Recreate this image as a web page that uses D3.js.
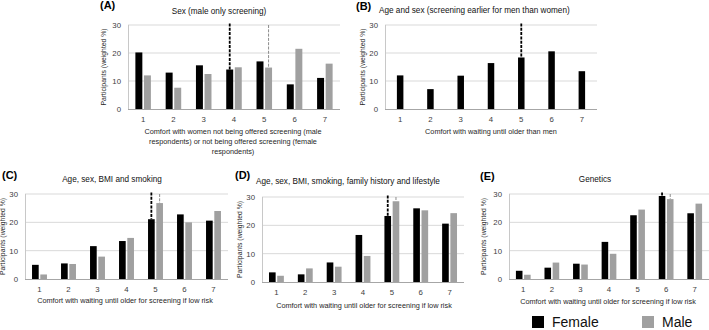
<!DOCTYPE html>
<html>
<head>
<meta charset="utf-8">
<script src="https://cdn.jsdelivr.net/npm/d3@7"></script>
<style>
  body { margin: 0; background: #fff; }
  svg { display: block; font-family: "Liberation Sans", Arial, sans-serif; }
</style>
</head>
<body>
<div id="chart"></div>
<script>
// categories of the comfort scale
const categories = ["1", "2", "3", "4", "5", "6", "7"];
const yTicks = [0, 10, 20, 30];

// (A) Sex (male only screening)
const femaleA = [20.2, 13.0, 15.6, 14.1, 17.0, 8.8, 11.1];
const maleA = [12.0, 7.6, 12.5, 14.9, 14.8, 21.5, 16.2];
// (B) Age and sex
const femaleB = [12.0, 7.1, 11.9, 16.4, 18.4, 20.6, 13.5];
// (C) Age, sex, BMI and smoking
const femaleC = [5.0, 5.5, 11.6, 13.4, 21.1, 22.8, 20.6];
const maleC = [1.6, 5.3, 7.9, 14.5, 26.8, 20.0, 24.0];
// (D) Age, sex, BMI, smoking, family history and lifestyle
const femaleD = [3.4, 2.7, 6.9, 16.6, 23.3, 26.0, 20.6];
const maleD = [2.2, 4.8, 5.4, 9.2, 28.5, 25.3, 24.3];
// (E) Genetics
const femaleE = [2.9, 4.0, 5.4, 13.1, 22.5, 29.3, 23.2];
const maleE = [1.5, 5.8, 5.1, 8.9, 24.5, 28.2, 26.6];

// median category per panel (dashed markers)
const medianFemale = ["4", "5", "5", "5", "6"];
const medianMale = ["5", null, "5", "5", "6"];

const FEMALE = "#000000", MALE = "#a0a0a0";

const svg = d3.select("#chart").append("svg")
    .attr("width", 709)
    .attr("height", 330);

function drawPanel(p) {
    const x = d3.scaleBand().domain(categories).range([p.x0, p.x1]);
    const y = d3.scaleLinear().domain([0, 30]).range([p.yBot, p.yTop]);
    const g = svg.append("g");
    const bw = x.bandwidth();
    const w = p.single ? 6.5 : bw * 0.23;
    const gap = 1.6;

    // gridlines
    g.selectAll(".grid").data(yTicks.slice(1)).enter().append("line")
        .attr("x1", p.x0).attr("x2", p.x1)
        .attr("y1", d => y(d)).attr("y2", d => y(d))
        .attr("stroke", "#d9d9d9").attr("stroke-width", 1);

    // left axis line
    g.append("line")
        .attr("x1", p.x0 + 0.5).attr("x2", p.x0 + 0.5)
        .attr("y1", y(30)).attr("y2", y(0))
        .attr("stroke", "#c8c8c8");

    // y axis labels
    const yAxis = g.append("g")
        .attr("transform", `translate(${p.x0 - 4},0)`)
        .call(d3.axisLeft(y).tickValues(yTicks).tickSize(0));
    yAxis.select(".domain").remove();
    yAxis.selectAll("text").attr("font-size", 7.8).attr("fill", "#404040")
        .attr("font-family", "Liberation Sans, Arial, sans-serif");

    // bars
    const cx = c => x(c) + bw / 2;
    const femaleX = c => p.single ? cx(c) - w / 2 : cx(c) - gap / 2 - w;
    const maleX = c => cx(c) + gap / 2;

    g.selectAll(".female").data(p.female).enter().append("rect")
        .attr("x", (d, i) => femaleX(categories[i]))
        .attr("y", d => y(d))
        .attr("width", w)
        .attr("height", d => y(0) - y(d))
        .attr("fill", FEMALE);

    if (p.male) {
        g.selectAll(".male").data(p.male).enter().append("rect")
            .attr("x", (d, i) => maleX(categories[i]))
            .attr("y", d => y(d))
            .attr("width", w)
            .attr("height", d => y(0) - y(d))
            .attr("fill", MALE);
    }

    // baseline
    g.append("line")
        .attr("x1", p.x0).attr("x2", p.x1)
        .attr("y1", y(0) + 0.5).attr("y2", y(0) + 0.5)
        .attr("stroke", "#a6a6a6");

    // median markers
    if (p.medF) {
        const i = categories.indexOf(p.medF);
        g.append("line")
            .attr("x1", femaleX(p.medF) + w / 2).attr("x2", femaleX(p.medF) + w / 2)
            .attr("y1", y(30) - 1.5).attr("y2", y(p.female[i]))
            .attr("stroke", FEMALE).attr("stroke-width", 1.8)
            .attr("stroke-dasharray", "3,1.3");
    }
    if (p.medM) {
        const i = categories.indexOf(p.medM);
        g.append("line")
            .attr("x1", maleX(p.medM) + w / 2).attr("x2", maleX(p.medM) + w / 2)
            .attr("y1", y(30)).attr("y2", y(p.male[i]))
            .attr("stroke", "#8c8c8c").attr("stroke-width", 1)
            .attr("stroke-dasharray", "3,1.3");
    }

    // x axis labels
    const xAxis = g.append("g")
        .attr("transform", `translate(0,${y(0) + 4})`)
        .call(d3.axisBottom(x).tickSize(0));
    xAxis.select(".domain").remove();
    xAxis.selectAll("text").attr("font-size", 7.8).attr("fill", "#404040")
        .attr("font-family", "Liberation Sans, Arial, sans-serif");

    // x title
    g.append("text")
        .attr("x", p.xtX).attr("y", p.xtY)
        .attr("text-anchor", "middle")
        .attr("font-size", 7.3).attr("fill", "#262626")
        .selectAll("tspan").data(p.xTitle).enter().append("tspan")
        .attr("x", p.xtX).attr("dy", (d, i) => i ? 10 : 0)
        .text(d => d);

    // y title
    g.append("text")
        .attr("transform", `translate(${p.ytX},${(y(0) + y(30)) / 2}) rotate(-90)`)
        .attr("text-anchor", "middle")
        .attr("font-size", 6.8).attr("fill", "#262626")
        .text("Participants (weighted %)");

    // panel title
    g.append("text")
        .attr("x", p.tX).attr("y", p.tY)
        .attr("text-anchor", p.tAnchor || "middle")
        .attr("font-size", 8.2).attr("fill", "#111")
        .text(p.title);

    // panel letter
    g.append("text")
        .attr("x", p.lX).attr("y", p.lY)
        .attr("font-size", 11).attr("font-weight", "bold")
        .text(p.letter);
}

const panels = [
    {letter: "(A)", lX: 100, lY: 9, title: "Sex (male only screening)", tX: 219, tY: 14,
     x0: 128, x1: 340, yTop: 25, yBot: 109, female: femaleA, male: maleA,
     medF: medianFemale[0], medM: medianMale[0],
     xTitle: ["Comfort with women not being offered screening (male",
              "respondents) or not being offered screening (female",
              "respondents)"], xtX: 233, xtY: 134, ytX: 106},
    {letter: "(B)", lX: 356, lY: 10, title: "Age and sex (screening earlier for men than women)",
     tX: 379, tY: 13, tAnchor: "start",
     x0: 385, x1: 597, yTop: 25, yBot: 109, female: femaleB, single: true,
     medF: medianFemale[1], medM: medianMale[1],
     xTitle: ["Comfort with waiting until older than men"], xtX: 491, xtY: 134, ytX: 365},
    {letter: "(C)", lX: 2, lY: 179, title: "Age, sex, BMI and smoking", tX: 112, tY: 182,
     x0: 25, x1: 228, yTop: 194, yBot: 279, female: femaleC, male: maleC,
     medF: medianFemale[2], medM: medianMale[2],
     xTitle: ["Comfort with waiting until older for screening if low risk"], xtX: 125, xtY: 303, ytX: 5},
    {letter: "(D)", lX: 235, lY: 179, title: "Age, sex, BMI, smoking, family history and lifestyle",
     tX: 348, tY: 184,
     x0: 262, x1: 464, yTop: 197, yBot: 282, female: femaleD, male: maleD,
     medF: medianFemale[3], medM: medianMale[3],
     xTitle: ["Comfort with waiting until older for screening if low risk"], xtX: 364, xtY: 308, ytX: 242},
    {letter: "(E)", lX: 480, lY: 180, title: "Genetics", tX: 595, tY: 182,
     x0: 509, x1: 709, yTop: 194, yBot: 279, female: femaleE, male: maleE,
     medF: medianFemale[4], medM: medianMale[4],
     xTitle: ["Comfort with waiting until older for screening if low risk"], xtX: 608, xtY: 304, ytX: 486}
];

panels.forEach(drawPanel);

// legend
const legendItems = [{name: "Female", color: FEMALE, x: 532}, {name: "Male", color: MALE, x: 642}];
const legend = svg.append("g");
legend.selectAll("rect").data(legendItems).enter().append("rect")
    .attr("x", d => d.x).attr("y", 316)
    .attr("width", 12).attr("height", 12)
    .attr("fill", d => d.color);
legend.selectAll("text").data(legendItems).enter().append("text")
    .attr("x", d => d.x + 20).attr("y", 327)
    .attr("font-size", 14).attr("fill", "#111")
    .text(d => d.name);
</script>
</body>
</html>
